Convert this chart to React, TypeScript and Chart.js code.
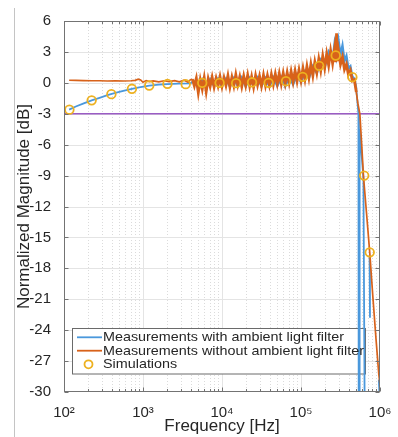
import React, { useEffect, useRef } from 'react';
import { Chart, registerables } from 'chart.js';

Chart.register(...registerables);

// ---------- data ----------
const seriesLabels = [
  'Measurements with ambient light filter',
  'Measurements without ambient light filter',
  'Simulations',
];

const xTickValues = [1e2, 1e3, 1e4, 1e5, 1e6];
const xTickLabels = ['10²', '10³', '10⁴', '10⁵', '10⁶'];
const xMinorSteps = [2, 3, 4, 5, 6, 7, 8, 9];
const yTickValues = [-30, -27, -24, -21, -18, -15, -12, -9, -6, -3, 0, 3, 6];
const cutoffDb = -3;

const simFreqHz = [117, 224, 398, 724, 1200, 2040, 3470, 5620, 9330, 15100, 24000, 38900, 64600, 105000, 170000, 275000, 447000, 631000, 741000];
const simDb = [-2.6, -1.7, -1.1, -0.58, -0.26, -0.1, -0.13, 0, 0, -0.03, 0.05, 0, 0.16, 0.58, 1.65, 2.65, 0.55, -9.0, -16.45];

// [log10(frequency in Hz), magnitude in dB]
const withFilter: [number, number | null][] = [
  [2.065, -2.6], [2.15, -2.3], [2.25, -2.0], [2.35, -1.7], [2.45, -1.45], [2.55, -1.2],
  [2.65, -0.98], [2.75, -0.78], [2.86, -0.58], [2.95, -0.43], [3.08, -0.28], [3.2, -0.18],
  [3.31, -0.12], [3.45, -0.08], [3.6, -0.05],
  [3.65, 0.2], [3.7, -0.5], [3.75, 0.3], [3.8, -0.4], [3.85, 0.35], [3.9, -0.3], [3.95, 0.4],
  [4.0, -0.3], [4.05, 0.4], [4.1, -0.35], [4.15, 0.45], [4.2, -0.3], [4.25, 0.5], [4.3, -0.35],
  [4.35, 0.45], [4.4, -0.3], [4.45, 0.5], [4.5, -0.3], [4.55, 0.45], [4.6, -0.35], [4.65, 0.5],
  [4.7, -0.3], [4.75, 0.55], [4.8, -0.35], [4.85, 0.6], [4.9, -0.15], [4.95, 0.8], [5.0, 0.05],
  [5.05, 1.1], [5.1, 0.45], [5.15, 1.6], [5.2, 0.95], [5.25, 2.2], [5.3, 1.5], [5.35, 3.0],
  [5.4, 2.2], [5.425, 3.8], [5.45, 2.6], [5.475, 4.1], [5.5, 2.7], [5.525, 3.6], [5.55, 2.1],
  [5.575, 2.6], [5.6, 1.4], [5.625, 1.6], [5.65, 0.6], [5.675, 0.4], [5.7, -0.6], [5.727, -3.0],
  [5.734, -60], [5.737, -60], [5.742, -4.5], [5.79, -9.2], [5.826, -60],
  [5.85, null],
  [5.868, -16.8], [5.873, -22.8],
  [5.93, null],
  [5.985, -28.8], [5.998, -31],
];

const withoutFilter: [number, number][] = [
  [2.065, 0.25], [2.15, 0.24], [2.25, 0.22], [2.35, 0.2], [2.45, 0.2], [2.55, 0.18], [2.65, 0.2],
  [2.75, 0.18], [2.85, 0.2], [2.9, 0.24], [2.94, 0.35], [2.97, 0.28], [3.0, 0.05], [3.04, 0.22],
  [3.08, 0.12], [3.13, 0.18], [3.2, 0.1], [3.27, 0.2], [3.33, 0.12], [3.4, 0.22], [3.46, 0.1],
  [3.52, 0.25], [3.57, 0.05], [3.6, 0.3],
  [3.625, 0.35], [3.65, -0.3], [3.675, 0.45], [3.7, -0.95], [3.725, 0.3], [3.75, -0.6],
  [3.775, 0.5], [3.8, -0.85], [3.825, 0.4], [3.85, -0.35], [3.875, 0.55], [3.9, -0.4],
  [3.925, 0.45], [3.95, -0.3], [3.975, 0.6], [4.0, -0.35], [4.025, 0.5], [4.05, -0.25],
  [4.075, 0.7], [4.1, -0.4], [4.125, 0.55], [4.15, -0.3], [4.175, 0.8], [4.2, -0.2],
  [4.225, 0.6], [4.25, -0.35], [4.275, 0.65], [4.3, -0.25], [4.325, 0.75], [4.35, -0.3],
  [4.375, 0.6], [4.4, -0.4], [4.425, 0.7], [4.45, -0.2], [4.475, 0.65], [4.5, -0.3],
  [4.525, 0.75], [4.55, -0.25], [4.575, 0.7], [4.6, -0.2], [4.625, 0.8], [4.65, -0.15],
  [4.675, 0.85], [4.7, -0.1], [4.725, 0.9], [4.75, -0.1], [4.775, 0.95], [4.8, -0.05],
  [4.825, 1.0], [4.85, 0.0], [4.875, 1.1], [4.9, 0.1], [4.925, 1.15], [4.95, 0.15],
  [4.975, 1.25], [5.0, 0.25], [5.025, 1.4], [5.05, 0.35], [5.075, 1.6], [5.1, 0.5],
  [5.125, 1.8], [5.15, 0.7], [5.175, 2.0], [5.2, 1.0], [5.225, 2.3], [5.25, 1.2],
  [5.275, 2.6], [5.3, 1.45], [5.325, 2.8], [5.35, 1.7], [5.375, 3.1], [5.4, 1.9],
  [5.425, 3.3], [5.44, 2.0], [5.45, 4.8], [5.46, 2.1], [5.475, 3.1], [5.5, 1.8],
  [5.525, 2.5], [5.55, 1.3], [5.575, 1.8], [5.6, 0.8], [5.625, 1.2], [5.65, 0.2],
  [5.675, 0.3], [5.7, -0.9],
  [5.72, -2.0], [5.745, -3.0], [5.77, -6.2], [5.79, -9.0], [5.83, -12.7], [5.87, -16.45],
  [5.91, -20.8], [5.95, -24.9], [5.985, -28.3], [6.0, -29.3],
];

// log10(Hz) range where the measured traces are noisy (drawn with a heavier pen)
const noisyRange = [3.62, 5.69];

// ---------- styling ----------
const FONT = '"Liberation Sans", Arial, Helvetica, sans-serif';
const TEXT = '#262626';
const BLUE = '#4a98dc';
const ORANGE = '#d8621a';
const YELLOW = '#edb120';
const PURPLE = '#9a5cc4';
const AXIS = '#737373';

const LEGEND = { x: 72.5, y: 328.5, w: 293, h: 45.5, rows: [337.3, 350.7, 364.3], lineX0: 77, lineX1: 102, textX: 103 };

const toPoints = (arr: [number, number | null][]) => arr.map(([e, d]) => ({ x: Math.pow(10, e), y: d }));

const inNoisy = (ctx: any) => {
  const e = Math.log10(ctx.p0.parsed.x);
  return e >= noisyRange[0] && e < noisyRange[1];
};

const axesPlugin = {
  id: 'matlabAxes',
  beforeDatasetsDraw(chart: any) {
    const { ctx, chartArea: a, scales } = chart;
    const xs = scales.x;
    const ys = scales.y;
    ctx.save();
    ctx.lineWidth = 1;
    ctx.strokeStyle = 'rgba(0,0,0,0.14)';
    ctx.setLineDash([1, 2]);
    for (const d of xTickValues.slice(0, -1)) {
      for (const m of xMinorSteps) {
        const px = Math.round(xs.getPixelForValue(d * m)) + 0.5;
        ctx.beginPath();
        ctx.moveTo(px, a.top);
        ctx.lineTo(px, a.bottom);
        ctx.stroke();
      }
    }
    ctx.setLineDash([]);
    ctx.strokeStyle = '#e4e4e4';
    for (const v of xTickValues.slice(1, -1)) {
      const px = Math.round(xs.getPixelForValue(v)) + 0.5;
      ctx.beginPath();
      ctx.moveTo(px, a.top);
      ctx.lineTo(px, a.bottom);
      ctx.stroke();
    }
    for (const v of yTickValues.slice(1, -1)) {
      const py = Math.round(ys.getPixelForValue(v)) + 0.5;
      ctx.beginPath();
      ctx.moveTo(a.left, py);
      ctx.lineTo(a.right, py);
      ctx.stroke();
    }
    // legend box (under the data, like the reference)
    ctx.fillStyle = '#ffffff';
    ctx.fillRect(LEGEND.x, LEGEND.y, LEGEND.w, LEGEND.h);
    ctx.strokeStyle = '#6a6a6a';
    ctx.strokeRect(LEGEND.x, LEGEND.y, LEGEND.w, LEGEND.h);
    ctx.lineWidth = 1.8;
    ctx.strokeStyle = BLUE;
    ctx.beginPath();
    ctx.moveTo(LEGEND.lineX0, LEGEND.rows[0]);
    ctx.lineTo(LEGEND.lineX1, LEGEND.rows[0]);
    ctx.stroke();
    ctx.strokeStyle = ORANGE;
    ctx.beginPath();
    ctx.moveTo(LEGEND.lineX0, LEGEND.rows[1]);
    ctx.lineTo(LEGEND.lineX1, LEGEND.rows[1]);
    ctx.stroke();
    ctx.strokeStyle = YELLOW;
    ctx.lineWidth = 1.8;
    ctx.beginPath();
    ctx.arc((LEGEND.lineX0 + LEGEND.lineX1) / 2 - 1, LEGEND.rows[2], 4, 0, Math.PI * 2);
    ctx.stroke();
    ctx.restore();
  },
  afterDatasetsDraw(chart: any) {
    const { ctx, chartArea: a, scales } = chart;
    const xs = scales.x;
    const ys = scales.y;
    ctx.save();
    ctx.strokeStyle = AXIS;
    ctx.lineWidth = 1;
    const L = a.left + 0.5, R = a.right - 0.5, T = a.top + 0.5, B = a.bottom - 0.5;
    ctx.strokeRect(L, T, R - L, B - T);
    ctx.beginPath();
    for (const v of yTickValues) {
      const py = Math.round(ys.getPixelForValue(v)) + 0.5;
      ctx.moveTo(L, py); ctx.lineTo(L + 4, py);
      ctx.moveTo(R, py); ctx.lineTo(R - 4, py);
    }
    for (const v of xTickValues) {
      const px = Math.round(xs.getPixelForValue(v)) + 0.5;
      ctx.moveTo(px, B); ctx.lineTo(px, B - 4);
      ctx.moveTo(px, T); ctx.lineTo(px, T + 4);
    }
    for (const d of xTickValues.slice(0, -1)) {
      for (const m of xMinorSteps) {
        const px = Math.round(xs.getPixelForValue(d * m)) + 0.5;
        ctx.moveTo(px, B); ctx.lineTo(px, B - 2.5);
        ctx.moveTo(px, T); ctx.lineTo(px, T + 2.5);
      }
    }
    ctx.stroke();
    ctx.restore();
  },
};

export default function App() {
  const canvasRef = useRef<HTMLCanvasElement | null>(null);

  useEffect(() => {
    if (!canvasRef.current) return;
    const chart = new Chart(canvasRef.current, {
      type: 'line',
      data: {
        datasets: [
          {
            label: seriesLabels[0],
            data: toPoints(withFilter),
            borderColor: BLUE,
            borderWidth: 1.8,
            pointRadius: 0,
            spanGaps: false,
            segment: { borderWidth: (c: any) => (inNoisy(c) ? 2.4 : 1.8) },
            order: 2,
          },
          {
            label: seriesLabels[1],
            data: toPoints(withoutFilter),
            borderColor: ORANGE,
            borderWidth: 1.7,
            pointRadius: 0,
            segment: { borderWidth: (c: any) => (inNoisy(c) ? 2.8 : 1.7) },
            order: 1,
          },
          {
            label: seriesLabels[2],
            data: simFreqHz.map((f, i) => ({ x: f, y: simDb[i] })),
            showLine: false,
            pointRadius: 4.3,
            pointBorderWidth: 1.8,
            pointBorderColor: YELLOW,
            pointBackgroundColor: 'rgba(0,0,0,0)',
            order: 0,
          },
          {
            label: '-3 dB',
            data: [{ x: xTickValues[0], y: cutoffDb }, { x: xTickValues[xTickValues.length - 1], y: cutoffDb }],
            borderColor: PURPLE,
            borderWidth: 1.5,
            pointRadius: 0,
            order: 3,
          },
        ],
      },
      options: {
        responsive: false,
        animation: false,
        devicePixelRatio: 1,
        layout: { padding: { top: 21, right: 18, left: 0, bottom: 0 } },
        plugins: { legend: { display: false }, tooltip: { enabled: false } },
        elements: { line: { tension: 0 } },
        scales: {
          x: {
            type: 'logarithmic',
            min: xTickValues[0],
            max: xTickValues[xTickValues.length - 1],
            grid: { display: false },
            border: { display: false },
            afterBuildTicks: (s: any) => { s.ticks = xTickValues.map((v) => ({ value: v, major: true })); },
            afterFit: (s: any) => { s.height = 45; },
            ticks: {
              autoSkip: false,
              maxRotation: 0,
              padding: 4,
              color: TEXT,
              font: { family: FONT, size: 15 },
              callback: (_v: any, i: number) => xTickLabels[i],
            },
            title: {
              display: true,
              text: 'Frequency [Hz]',
              color: TEXT,
              font: { family: FONT, size: 17 },
              padding: { top: 0, bottom: 0 },
            },
          },
          y: {
            type: 'linear',
            min: yTickValues[0],
            max: yTickValues[yTickValues.length - 1],
            grid: { display: false },
            border: { display: false },
            afterBuildTicks: (s: any) => { s.ticks = yTickValues.map((v) => ({ value: v })); },
            afterFit: (s: any) => { s.width = 64; },
            ticks: {
              padding: 5,
              color: TEXT,
              font: { family: FONT, size: 15 },
              callback: (v: any) => String(v),
            },
            title: {
              display: true,
              text: 'Normalized Magnitude [dB]',
              color: TEXT,
              font: { family: FONT, size: 17 },
              padding: { top: 14, bottom: 0 },
            },
          },
        },
      },
      plugins: [axesPlugin],
    } as any);
    return () => chart.destroy();
  }, []);

  return (
    <div style={{ position: 'fixed', left: 0, top: 0, width: 398, height: 437, background: '#fff', overflow: 'hidden' }}>
      <div style={{ position: 'absolute', left: 14, top: 8, width: 1, height: 429, background: '#c4c4c4' }} />
      <canvas ref={canvasRef} width={398} height={437} style={{ position: 'absolute', left: 0, top: 0 }} />
      {seriesLabels.map((t, i) => (
        <div
          key={t}
          style={{
            position: 'absolute',
            left: LEGEND.textX,
            top: LEGEND.rows[i] - 7,
            height: 14,
            lineHeight: '14px',
            font: `12.6px ${FONT}`,
            color: TEXT,
            whiteSpace: 'nowrap',
            transform: 'scaleX(1.14)',
            transformOrigin: 'left center',
          }}
        >
          {t}
        </div>
      ))}
    </div>
  );
}
